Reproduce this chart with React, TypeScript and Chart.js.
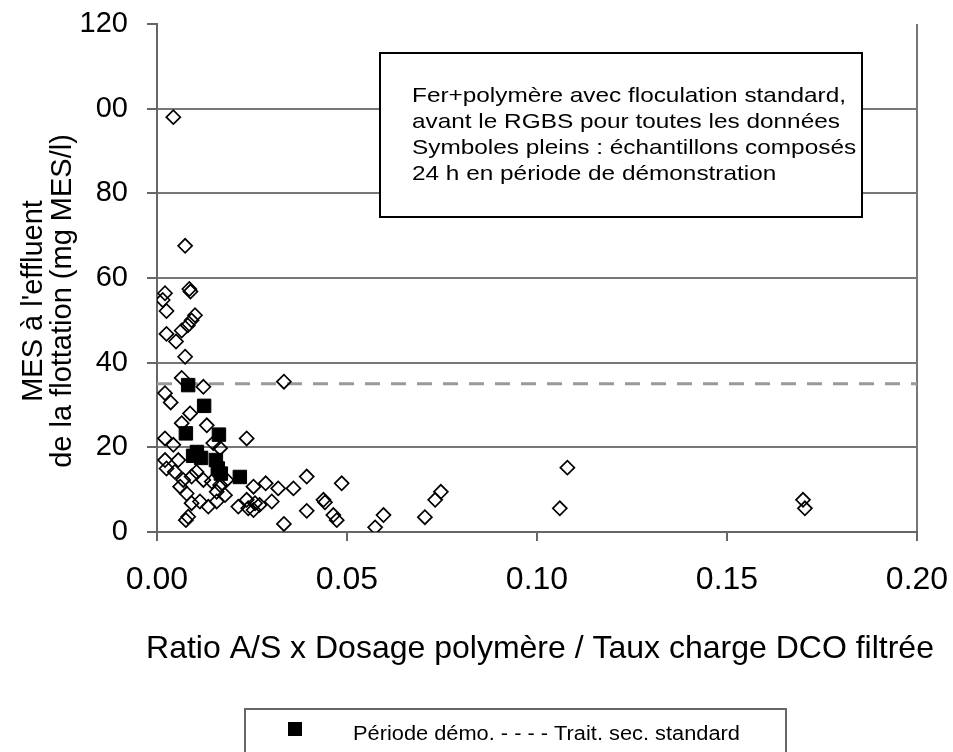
import React, { useEffect, useRef } from 'react';
import { Chart, registerables } from 'chart.js';

Chart.register(...registerables);

// ---------- data ----------
const xTickValues = [0, 0.05, 0.1, 0.15, 0.2];
const yTickValues = [0, 20, 40, 60, 80, 100, 120];
const yTickLabels = ['0', '20', '40', '60', '80', '00', '120'];

const openX = [
  0.0043, 0.0074, 0.0085, 0.0088, 0.0021, 0.0015, 0.0025, 0.0100, 0.0091, 0.0081,
  0.0065, 0.0025, 0.0050, 0.0074, 0.0065, 0.0122, 0.0021, 0.0036, 0.0087, 0.0065,
  0.0131, 0.0021, 0.0043, 0.0236, 0.0148, 0.0021, 0.0025, 0.0056, 0.0047, 0.0069,
  0.0061, 0.0078, 0.0091, 0.0122, 0.0144, 0.0166, 0.0183, 0.0157, 0.0179, 0.0113,
  0.0135, 0.0157, 0.0091, 0.0082, 0.0076, 0.0214, 0.0236, 0.0240, 0.0258, 0.0254,
  0.0254, 0.0286, 0.0334, 0.0319, 0.0359, 0.0394, 0.0302, 0.0270, 0.0438, 0.0442,
  0.0486, 0.0394, 0.0464, 0.0473, 0.0334, 0.0574, 0.0596, 0.0705, 0.0732, 0.0747,
  0.1080, 0.1060, 0.1700, 0.1705, 0.0166, 0.0104,
];
const openY = [
  98.0, 67.6, 57.4, 56.8, 56.4, 54.8, 52.2, 51.2, 50.0, 48.8,
  47.6, 46.8, 45.0, 41.4, 36.4, 34.3, 32.8, 30.6, 28.0, 25.7,
  25.2, 22.1, 20.6, 22.1, 21.0, 17.0, 15.0, 17.0, 14.2, 12.3,
  10.7, 9.1, 13.1, 12.3, 11.9, 11.1, 12.3, 9.5, 8.7, 7.2,
  6.0, 7.2, 6.8, 3.6, 2.8, 6.0, 7.6, 5.6, 6.8, 5.2,
  10.7, 11.5, 35.5, 10.3, 10.3, 13.1, 7.2, 6.4, 7.6, 7.0,
  11.5, 5.0, 4.0, 2.8, 1.9, 1.1, 4.0, 3.5, 7.6, 9.5,
  15.2, 5.6, 7.6, 5.6, 19.8, 14.2,
];

const demoX = [0.0082, 0.0124, 0.0076, 0.0163, 0.0105, 0.0116, 0.0095, 0.0155, 0.0160, 0.0168, 0.0218];
const demoY = [34.7, 29.8, 23.3, 23.0, 18.9, 17.5, 18.0, 17.0, 15.0, 13.8, 13.0];

const standardX = [0, 0.2];
const standardY = [35, 35];

const xTitle = 'Ratio A/S x Dosage polymère / Taux charge DCO filtrée';
const yTitleLines = ["MES à l'effluent", 'de la flottation (mg MES/l)'];
const noteLines = [
  'Fer+polymère avec floculation standard,',
  'avant le RGBS pour toutes les données',
  'Symboles pleins : échantillons composés',
  '24 h en période de démonstration',
];
const legendText = 'Période démo. - - - - Trait. sec. standard';

const FONT = "'Liberation Sans', Arial, sans-serif";

const overlayPlugin = {
  id: 'overlay',
  afterDraw(chart: any) {
    const ctx: CanvasRenderingContext2D = chart.ctx;
    ctx.save();
    ctx.fillStyle = '#000';
    ctx.textBaseline = 'alphabetic';

    // x axis title
    ctx.font = `32px ${FONT}`;
    ctx.textAlign = 'center';
    ctx.fillText(xTitle, 540, 658);

    // y axis title (two rotated lines)
    ctx.font = `29px ${FONT}`;
    const baseX = [42, 71];
    yTitleLines.forEach((line, i) => {
      ctx.save();
      ctx.translate(baseX[i], 301);
      ctx.rotate(-Math.PI / 2);
      ctx.fillText(line, 0, 0);
      ctx.restore();
    });

    // annotation box
    ctx.fillStyle = '#fff';
    ctx.fillRect(380, 53, 482, 164);
    ctx.strokeStyle = '#000';
    ctx.lineWidth = 2;
    ctx.strokeRect(380, 53, 482, 164);
    ctx.fillStyle = '#000';
    ctx.font = `21px ${FONT}`;
    ctx.textAlign = 'left';
    noteLines.forEach((line, i) => {
      ctx.save();
      ctx.translate(412, 102 + i * 26);
      ctx.scale(1.16, 1);
      ctx.fillText(line, 0, 0);
      ctx.restore();
    });

    // legend box
    ctx.strokeStyle = '#666';
    ctx.lineWidth = 2;
    ctx.strokeRect(245, 709, 541, 80);
    ctx.fillStyle = '#000';
    ctx.fillRect(288, 722, 14, 14);
    ctx.font = `20px ${FONT}`;
    ctx.save();
    ctx.translate(353, 740);
    ctx.scale(1.09, 1);
    ctx.fillText(legendText, 0, 0);
    ctx.restore();
    ctx.restore();
  },
};

export default function App() {
  const ref = useRef<HTMLCanvasElement | null>(null);

  useEffect(() => {
    document.body.style.margin = '0';
    const canvas = ref.current;
    if (!canvas) return;
    const chart = new Chart(canvas, {
      type: 'scatter',
      data: {
        datasets: [
          {
            label: 'Période démo.',
            data: demoX.map((x, i) => ({ x, y: demoY[i] })),
            pointStyle: 'rect',
            pointRadius: 9.5,
            backgroundColor: '#000',
            borderColor: '#000',
            borderWidth: 1,
            order: 0,
          },
          {
            label: 'Toutes les données',
            data: openX.map((x, i) => ({ x, y: openY[i] })),
            pointStyle: 'rectRot',
            pointRadius: 7,
            backgroundColor: 'rgba(0,0,0,0)',
            borderColor: '#000',
            borderWidth: 1.7,
            order: 1,
          },
          {
            label: 'Trait. sec. standard',
            type: 'line',
            data: standardX.map((x, i) => ({ x, y: standardY[i] })),
            showLine: true,
            borderColor: '#999',
            borderWidth: 3,
            borderDash: [15, 11],
            pointRadius: 0,
            fill: false,
            order: 2,
          } as any,
        ],
      },
      options: {
        animation: false,
        responsive: false,
        devicePixelRatio: 1,
        layout: { padding: { left: 0, top: 24, right: 36, bottom: 86 } },
        plugins: {
          legend: { display: false },
          tooltip: { enabled: false },
        },
        scales: {
          x: {
            type: 'linear',
            position: 'bottom',
            min: 0,
            max: 0.2,
            afterBuildTicks: (s: any) => {
              s.ticks = xTickValues.map((value) => ({ value }));
            },
            afterFit: (s: any) => {
              s.height = 134;
              s.paddingLeft = 0;
              s.paddingRight = 0;
            },
            grid: {
              color: (c: any) => (c.tick && c.tick.value === 0.2 ? '#777' : 'rgba(0,0,0,0)'),
              tickColor: '#666',
              lineWidth: 2,
              tickLength: 9,
            },
            border: { display: true, color: '#666', width: 2 },
            ticks: {
              font: { family: FONT, size: 32 },
              color: '#000',
              padding: 20,
              maxRotation: 0,
              callback: (v: any) => Number(v).toFixed(2),
            },
            title: { display: false },
          },
          y: {
            type: 'linear',
            min: 0,
            max: 120,
            afterBuildTicks: (s: any) => {
              s.ticks = yTickValues.map((value) => ({ value }));
            },
            afterFit: (s: any) => {
              s.width = 157;
              s.paddingTop = 0;
              s.paddingBottom = 0;
            },
            grid: {
              color: (c: any) =>
                c.tick && c.tick.value > 0 && c.tick.value < 120 ? '#777' : 'rgba(0,0,0,0)',
              tickColor: '#666',
              lineWidth: 2,
              tickLength: 10,
            },
            border: { display: true, color: '#666', width: 2 },
            ticks: {
              font: { family: FONT, size: 29 },
              color: '#000',
              padding: 19,
              callback: (_v: any, i: number) => yTickLabels[i],
            },
          },
        },
      },
      plugins: [overlayPlugin],
    });
    return () => chart.destroy();
  }, []);

  return (
    <div style={{ width: 953, height: 752 }}>
      <canvas ref={ref} width={953} height={752} />
    </div>
  );
}
